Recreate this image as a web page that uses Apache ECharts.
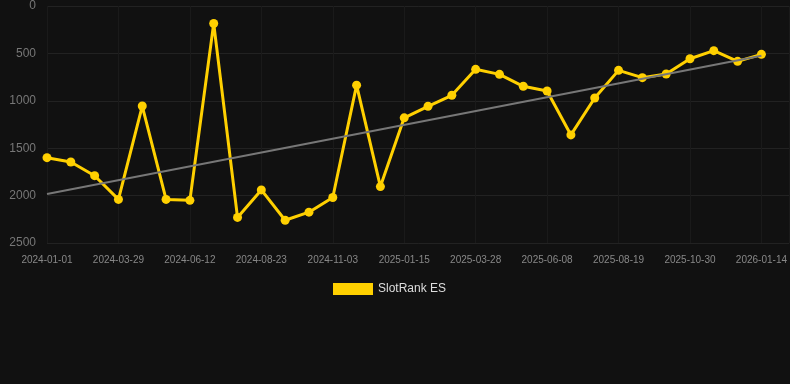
<!DOCTYPE html>
<html>
<head>
<meta charset="utf-8">
<script src="https://cdn.jsdelivr.net/npm/echarts@6/dist/echarts.min.js"></script>
<style>
  html, body { margin: 0; padding: 0; background: #111111; }
  #main { width: 790px; height: 384px; }
</style>
</head>
<body>
<div id="main"></div>
<script>
// dates (one per point, every 3rd label shown)
var dates = [
  '2024-01-01', '2024-01-30', '2024-02-28', '2024-03-29', '2024-04-23', '2024-05-18',
  '2024-06-12', '2024-07-06', '2024-07-30', '2024-08-23', '2024-09-16', '2024-10-10',
  '2024-11-03', '2024-11-27', '2024-12-22', '2025-01-15', '2025-02-08', '2025-03-04',
  '2025-03-28', '2025-04-21', '2025-05-15', '2025-06-08', '2025-07-02', '2025-07-26',
  '2025-08-19', '2025-09-12', '2025-10-06', '2025-10-30', '2025-11-24', '2025-12-19',
  '2026-01-14'
];

// rank values
var rankES = [
  1600, 1645, 1790, 2040, 1055, 2040, 2050, 185, 2230, 1940, 2260, 2175,
  2020, 835, 1905, 1180, 1058, 942, 668, 721, 847, 897, 1360, 971,
  679, 756, 717, 556, 471, 584, 510
];

// trend line ends
var trendStart = 1983;
var trendEnd = 525;

var seriesData = rankES.map(function (v, i) { return [i, v]; });
var lastIdx = dates.length - 1;

var myChart = echarts.init(document.getElementById('main'));

var option = {
    backgroundColor: '#111111',
    animation: false,
    grid: {
        left: 47,
        right: 0,
        top: 6,
        bottom: 141
    },
    legend: {
        top: 278,
        left: 328,
        itemWidth: 40,
        itemHeight: 12,
        icon: 'rect',
        textStyle: { color: '#dddddd', fontSize: 12 },
        data: ['SlotRank ES']
    },
    tooltip: { trigger: 'axis' },
    xAxis: {
        type: 'value',
        min: 0,
        max: 31.17,
        interval: 3,
        axisLine: { show: false },
        axisTick: { show: false },
        axisLabel: {
            color: '#888888',
            fontSize: 10,
            margin: 12,
            showMaxLabel: false,
            formatter: function (v) {
                return (v % 1 === 0 && dates[v]) ? dates[v] : '';
            }
        },
        splitLine: {
            show: true,
            lineStyle: { color: '#1a1a1a' }
        }
    },
    yAxis: {
        type: 'value',
        inverse: true,
        min: 0,
        max: 2500,
        interval: 500,
        axisLine: { show: false },
        axisTick: { show: false },
        axisLabel: {
            color: '#777777',
            fontSize: 12,
            margin: 11,
            formatter: function (v) { return String(v); }
        },
        splitLine: { lineStyle: { color: '#222222' } }
    },
    series: [{
        name: 'SlotRank ES',
        type: 'line',
        data: seriesData,
        symbol: 'circle',
        symbolSize: 9,
        itemStyle: { color: '#ffd000' },
        lineStyle: { color: '#ffd000', width: 3 },
        markLine: {
            silent: true,
            symbol: 'none',
            label: { show: false },
            lineStyle: { color: '#777777', width: 2, type: 'solid' },
            data: [[
                { coord: [0, trendStart] },
                { coord: [lastIdx, trendEnd] }
            ]]
        },
        z: 3
    }]
};

myChart.setOption(option);
</script>
</body>
</html>
